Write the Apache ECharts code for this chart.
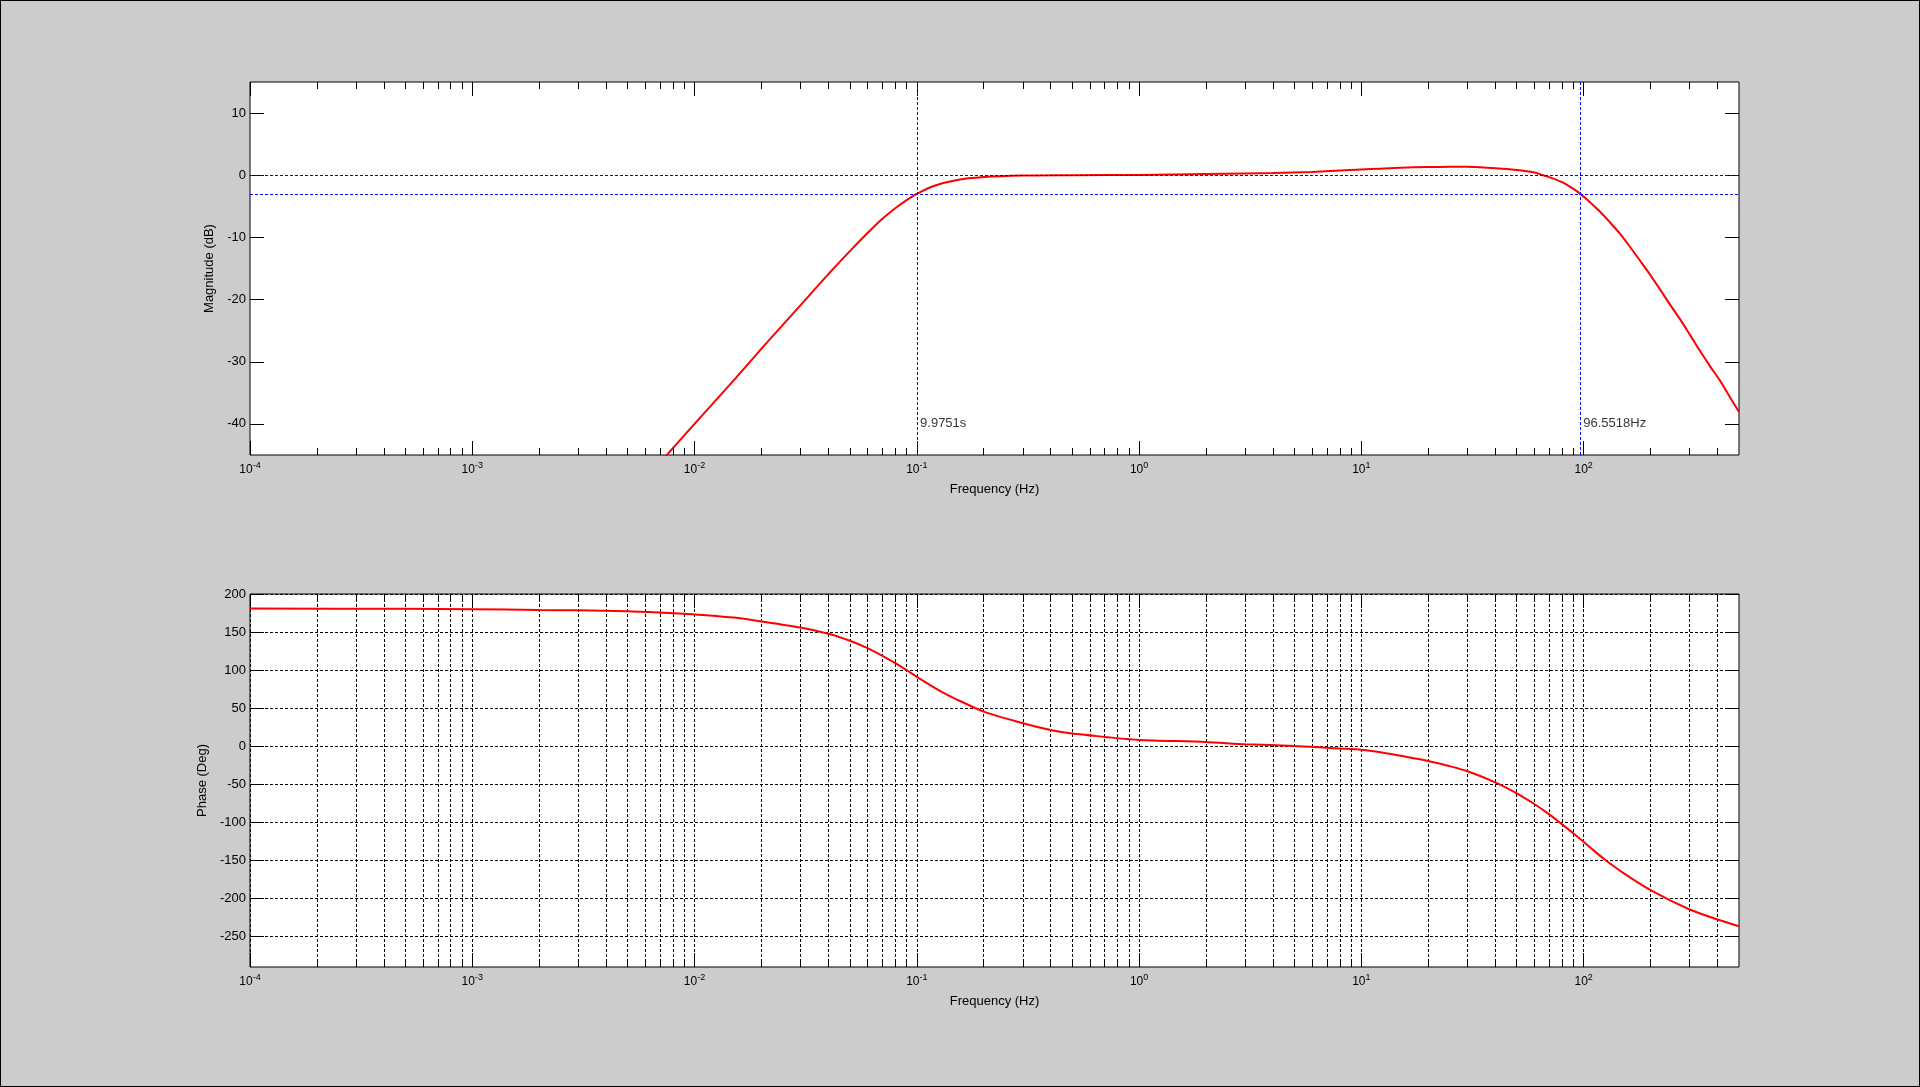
<!DOCTYPE html>
<html>
<head>
<meta charset="utf-8">
<script src="https://cdn.jsdelivr.net/npm/echarts@6/dist/echarts.min.js"></script>
<style>
  html, body { margin: 0; padding: 0; background: #cccccc; }
  #main { width: 1920px; height: 1087px; box-sizing: border-box; border: 1px solid #000; }
</style>
</head>
<body>
<div id="main"></div>
<script>
// magnitude curve (Hz, dB)
const magFreq = [0.005, 0.007, 0.01, 0.015, 0.02, 0.03, 0.04, 0.05, 0.06, 0.07,
  0.08, 0.09, 0.1, 0.12, 0.15, 0.2, 0.3, 0.5, 1, 2, 3, 4, 6, 8, 10, 12, 15, 20,
  25, 30, 40, 50, 60, 65, 70, 80, 90, 96.55, 105, 118, 130, 145.6, 160, 179, 200,
  220, 250, 271, 300, 333, 370, 410, 450, 500];
const magDb = [-52.0, -46.2, -40.0, -33.0, -27.9, -20.9, -15.9, -12.2, -9.3, -7.0,
  -5.3, -4.0, -3.0, -1.7, -0.8, -0.3, -0.05, 0.0, 0.05, 0.2, 0.3, 0.38, 0.54, 0.75, 0.92, 1.06, 1.22, 1.32,
  1.38, 1.36, 1.14, 0.85, 0.45, 0.05, -0.3, -1.1, -2.2, -3.0, -4.1, -5.8, -7.4, -9.4, -11.3, -13.7, -16.1,
  -18.3, -21.3, -23.1, -25.6, -28.2, -30.7, -33.0, -35.4, -38.1];

// phase curve (Hz, deg)
const phaseFreq = [0.0001, 0.0005, 0.001, 0.002, 0.003, 0.005, 0.007, 0.01, 0.015, 0.02,
  0.03, 0.04, 0.05, 0.06, 0.07, 0.08, 0.09, 0.1, 0.127, 0.15, 0.2, 0.3, 0.4, 0.5, 0.7,
  1, 2, 3, 5, 7, 8, 10, 12, 15, 20, 25, 30, 40, 50, 60, 70, 80, 90, 100, 110, 124, 150, 200, 300, 400, 500];
const phaseDeg = [181, 180.5, 180, 179, 178.5, 177.3, 175.5, 173.2, 169, 164,
  156, 147.8, 138.6, 128.9, 118.8, 109.2, 100, 91.2, 72.8, 62, 45.5, 30.3, 21.4, 16.6, 12.3,
  8.2, 5.7, 2.6, 0.4, -2.0, -3.0, -4.7, -7.5, -12.5, -19.3, -26.3, -32.9, -47.4, -61.8, -75.9, -89.5,
  -102.6, -114.5, -125.5, -136, -148.5, -166, -189, -214.5, -227.6, -236.4];

// cutoff markers
const refLevels = [0, -3];
const markerFreqs = [0.10025, 96.5518];
const markerLabels = ['9.9751s', '96.5518Hz'];
const markerLabelDb = -40;

// axes
const freqRange = [1e-4, 500];
const magRange = [-45, 15];
const phaseRange = [-290, 200];
const decades = [1e-4, 1e-3, 1e-2, 1e-1, 1, 10, 100];
const decadeExp = ['-4', '-3', '-2', '-1', '0', '1', '2'];
const minorSteps = [2, 3, 4, 5, 6, 7, 8, 9];
const magTicks = [-40, -30, -20, -10, 0, 10];
const phaseTicks = [-250, -200, -150, -100, -50, 0, 50, 100, 150, 200];

const minorTicks = [];
decades.forEach(d => minorSteps.forEach(k => {
  const v = +(d * k).toPrecision(6);
  if (v < freqRange[1]) minorTicks.push(v);
}));

const FONT = '"Liberation Sans", Arial, sans-serif';
const gridDash = { color: '#000', type: [3, 2], width: 1 };

function xAxis(gridIndex, position, values, len, withLabel, split) {
  return {
    type: 'log', logBase: 10, gridIndex, position,
    min: freqRange[0], max: freqRange[1],
    name: withLabel ? 'Frequency (Hz)' : '',
    nameLocation: 'middle', nameGap: 28,
    nameTextStyle: { color: '#000', fontSize: 13, fontFamily: FONT },
    axisLine: { show: false, onZero: false },
    axisTick: { show: true, inside: true, length: len, customValues: values, lineStyle: { color: '#000', width: 1 } },
    axisLabel: {
      show: withLabel, customValues: values, margin: 6,
      formatter: v => {
        const i = decades.findIndex(d => Math.abs(d - v) / d < 1e-3);
        return i < 0 ? '' : '{b|10}{s|' + decadeExp[i] + '}';
      },
      rich: {
        b: { fontSize: 12, color: '#000', fontFamily: FONT },
        s: { fontSize: 9, color: '#000', fontFamily: FONT, padding: [0, 0, 9, 0] }
      }
    },
    splitLine: { show: split, lineStyle: gridDash },
    minorTick: { show: false }, minorSplitLine: { show: false }
  };
}

function yAxis(gridIndex, position, range, ticks, name, nameGap, split) {
  const left = position === 'left';
  return {
    type: 'value', gridIndex, position, min: range[0], max: range[1],
    name: left ? name : '', nameLocation: 'middle', nameGap,
    nameTextStyle: { color: '#000', fontSize: 13, fontFamily: FONT },
    axisLine: { show: false, onZero: false },
    axisTick: { show: true, inside: true, length: 14, customValues: ticks, lineStyle: { color: '#000', width: 1 } },
    axisLabel: { show: left, customValues: ticks, margin: 4, color: '#000', fontSize: 13, fontFamily: FONT },
    splitLine: { show: split, lineStyle: gridDash }
  };
}

const chart = echarts.init(document.getElementById('main'));
chart.setOption({
  animation: false,
  backgroundColor: '#cccccc',
  grid: [
    { left: 249, top: 81, width: 1489, height: 373, show: true, backgroundColor: '#fff', borderColor: '#000', borderWidth: 1, outerBoundsMode: 'none' },
    { left: 249, top: 593, width: 1489, height: 373, show: true, backgroundColor: '#fff', borderColor: '#000', borderWidth: 1, outerBoundsMode: 'none' }
  ],
  xAxis: [
    xAxis(0, 'bottom', decades, 14, true, false),
    xAxis(0, 'bottom', minorTicks, 7, false, false),
    xAxis(0, 'top', decades, 14, false, false),
    xAxis(0, 'top', minorTicks, 7, false, false),
    xAxis(1, 'bottom', decades, 14, true, true),
    xAxis(1, 'bottom', minorTicks, 7, false, true),
    xAxis(1, 'top', decades, 14, false, false),
    xAxis(1, 'top', minorTicks, 7, false, false)
  ],
  yAxis: [
    yAxis(0, 'left', magRange, magTicks, 'Magnitude (dB)', 26, false),
    yAxis(0, 'right', magRange, magTicks, '', 0, false),
    yAxis(1, 'left', phaseRange, phaseTicks, 'Phase (Deg)', 33, true),
    yAxis(1, 'right', phaseRange, phaseTicks, '', 0, false)
  ],
  series: [
    {
      type: 'line', xAxisIndex: 0, yAxisIndex: 0,
      data: magFreq.map((f, i) => [f, magDb[i]]),
      symbol: 'none', smooth: 0.25, clip: true, z: 3,
      lineStyle: { color: '#ff0000', width: 2 },
      markLine: {
        silent: true, symbol: 'none', label: { show: false },
        lineStyle: { color: '#0000ff', type: [3, 2], width: 1 },
        data: refLevels.map(v => ({ yAxis: v })).concat(markerFreqs.map(f => ({ xAxis: f })))
      }
    },
    {
      type: 'scatter', xAxisIndex: 0, yAxisIndex: 0, symbolSize: 0, silent: true,
      data: markerFreqs.map(f => [f, markerLabelDb]),
      label: {
        show: true, position: 'right', distance: 3, color: '#000', fontSize: 13, fontFamily: FONT,
        formatter: p => markerLabels[p.dataIndex]
      }
    },
    {
      type: 'line', xAxisIndex: 4, yAxisIndex: 2,
      data: phaseFreq.map((f, i) => [f, phaseDeg[i]]),
      symbol: 'none', smooth: 0.25, clip: true, z: 3,
      lineStyle: { color: '#ff0000', width: 2 }
    }
  ]
});
</script>
</body>
</html>
